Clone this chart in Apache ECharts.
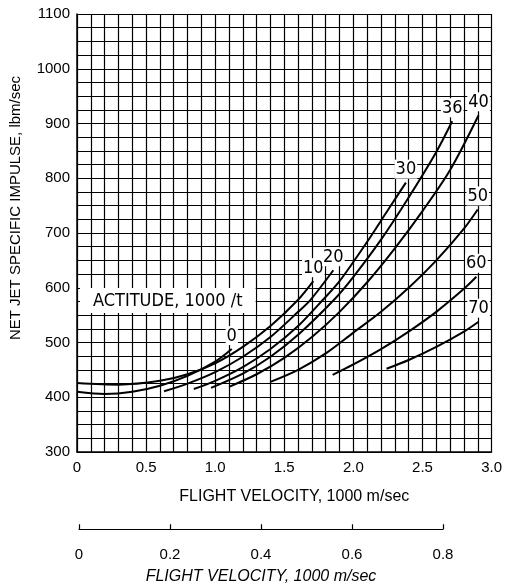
<!DOCTYPE html>
<html>
<head>
<meta charset="utf-8">
<script src="https://cdn.jsdelivr.net/npm/echarts@6/dist/echarts.min.js"></script>
<style>
  html, body { margin: 0; padding: 0; background: #fff; }
  #myChart { width: 505px; height: 585px; }
</style>
</head>
<body>
<div id="myChart"></div>
<script>
// altitude curves, [velocity 1000 m/sec, impulse lbm/sec]
var alt0  = [[0, 410], [0.2, 406], [0.4, 410], [0.6, 421], [0.8, 439], [1.0, 465], [1.12, 488]];
var alt10 = [[0, 426], [0.3, 423], [0.6, 430], [0.8, 442], [1.0, 462], [1.2, 492], [1.4, 530], [1.6, 578], [1.71, 612]];
var alt20 = [[0.63, 411], [0.8, 425], [1.0, 446], [1.2, 474], [1.4, 510], [1.6, 556], [1.69, 578], [1.855, 632]];
var alt30 = [[0.845, 415], [1.0, 430], [1.2, 455], [1.4, 488], [1.6, 530], [1.78, 578], [1.9, 612], [2.1, 684], [2.25, 742], [2.38, 792]];
var alt36 = [[0.97, 417], [1.2, 443], [1.4, 474], [1.6, 514], [1.86, 578], [2.0, 620], [2.2, 688], [2.4, 765], [2.6, 848], [2.715, 904]];
var alt40 = [[1.1, 419], [1.3, 442], [1.5, 472], [1.7, 510], [1.9, 556], [2.1, 610], [2.3, 672], [2.5, 740], [2.7, 815], [2.906, 915]];
var alt50 = [[1.4, 428], [1.6, 450], [1.8, 480], [2.0, 518], [2.2, 556], [2.4, 600], [2.6, 650], [2.8, 708], [2.9, 743]];
var alt60 = [[1.85, 441], [2.0, 460], [2.2, 488], [2.4, 520], [2.6, 556], [2.8, 598], [2.89, 620]];
var alt70 = [[2.24, 452], [2.4, 468], [2.6, 492], [2.8, 520], [2.906, 538]];

var curves = [alt0, alt10, alt20, alt30, alt36, alt40, alt50, alt60, alt70];
var curveLabels = ['0', '10', '20', '30', '36', '40', '50', '60', '70'];

var xTicks = [0, 0.5, 1.0, 1.5, 2.0, 2.5, 3.0];
var yTicks = [300, 400, 500, 600, 700, 800, 900, 1000, 1100];
var x2Ticks = [0, 0.2, 0.4, 0.6, 0.8];

var FONT = '"Liberation Sans", Arial, sans-serif';
var NARROW = '"Liberation Sans Narrow", "Arial Narrow", "DejaVu Sans Condensed", sans-serif';

function near(v, list) {
  for (var i = 0; i < list.length; i++) {
    if (Math.abs(v - list[i]) < 1e-6) return list[i];
  }
  return null;
}

var myChart = echarts.init(document.getElementById('myChart'));

var series = curves.map(function (d, i) {
  return {
    name: curveLabels[i],
    type: 'line',
    xAxisIndex: 0,
    yAxisIndex: 0,
    data: d,
    smooth: 0.3,
    showSymbol: false,
    symbol: 'none',
    silent: true,
    lineStyle: { color: '#000', width: 2 },
    markPoint: {
      symbol: 'circle',
      symbolSize: 0,
      silent: true,
      label: {
        show: true,
        position: 'top',
        distance: 4,
        formatter: '{b}',
        color: '#000',
        fontFamily: NARROW,
        fontSize: 18,
        backgroundColor: '#fff',
        padding: [1, 1, 0, 1]
      },
      data: [{ name: curveLabels[i], coord: d[d.length - 1] }]
    }
  };
});

myChart.setOption({
  animation: false,
  backgroundColor: '#fff',
  grid: [
    { left: 74, top: 14, width: 419, height: 438 },
    { left: 79, top: 529, width: 364, height: 1 }
  ],
  xAxis: [
    {
      type: 'value',
      gridIndex: 0,
      min: 0,
      max: 3,
      interval: 0.1,
      name: 'FLIGHT VELOCITY, 1000 m/sec',
      nameLocation: 'middle',
      nameGap: 37,
      nameTextStyle: { color: '#000', fontFamily: FONT, fontSize: 16, padding: [0, 0, 0, 20] },
      axisLine: { lineStyle: { color: '#000', width: 1.5 } },
      axisTick: { show: false },
      axisLabel: {
        color: '#000',
        fontFamily: FONT,
        fontSize: 15,
        margin: 8,
        formatter: function (v) {
          var t = near(v, xTicks);
          if (t === null) return '';
          return t === 0 ? '0' : t.toFixed(1);
        }
      },
      splitLine: { show: true, lineStyle: { color: '#000', width: 1.2 } }
    },
    {
      type: 'value',
      gridIndex: 1,
      min: 0,
      max: 0.8,
      interval: 0.2,
      position: 'bottom',
      name: 'FLIGHT VELOCITY, 1000 m/sec',
      nameLocation: 'middle',
      nameGap: 39,
      nameTextStyle: { color: '#000', fontFamily: FONT, fontSize: 16, fontStyle: 'italic' },
      axisLine: { lineStyle: { color: '#000', width: 1.2 } },
      axisTick: { show: true, inside: true, length: 5, lineStyle: { color: '#000', width: 1.2 } },
      axisLabel: {
        color: '#000',
        fontFamily: FONT,
        fontSize: 15,
        margin: 18,
        formatter: function (v) {
          var t = near(v, x2Ticks);
          if (t === null) return '';
          return t === 0 ? '0' : t.toFixed(1);
        }
      },
      splitLine: { show: false }
    }
  ],
  yAxis: [
    {
      type: 'value',
      gridIndex: 0,
      min: 300,
      max: 1100,
      interval: 25,
      name: 'NET JET SPECIFIC IMPULSE, lbm/sec',
      nameLocation: 'middle',
      nameGap: 54,
      nameTextStyle: { color: '#000', fontFamily: FONT, fontSize: 15, padding: [0, 0, 0, 50] },
      axisLine: { show: true, lineStyle: { color: '#000', width: 1.5 } },
      axisTick: { show: false },
      axisLabel: {
        color: '#000',
        fontFamily: FONT,
        fontSize: 15,
        margin: 7,
        formatter: function (v) {
          var t = near(v, yTicks);
          return t === null ? '' : String(t);
        }
      },
      splitLine: { show: true, lineStyle: { color: '#000', width: 1.2 } }
    },
    {
      type: 'value',
      gridIndex: 1,
      show: false,
      min: 0,
      max: 1
    }
  ],
  graphic: [
    {
      type: 'text',
      left: 80,
      top: 288,
      z: 100,
      style: {
        text: 'ACTITUDE, 1000 /t',
        fill: '#000',
        font: '18px ' + NARROW,
        backgroundColor: '#fff',
        padding: [4, 13, 3, 13]
      }
    }
  ],
  series: series
});
</script>
</body>
</html>
